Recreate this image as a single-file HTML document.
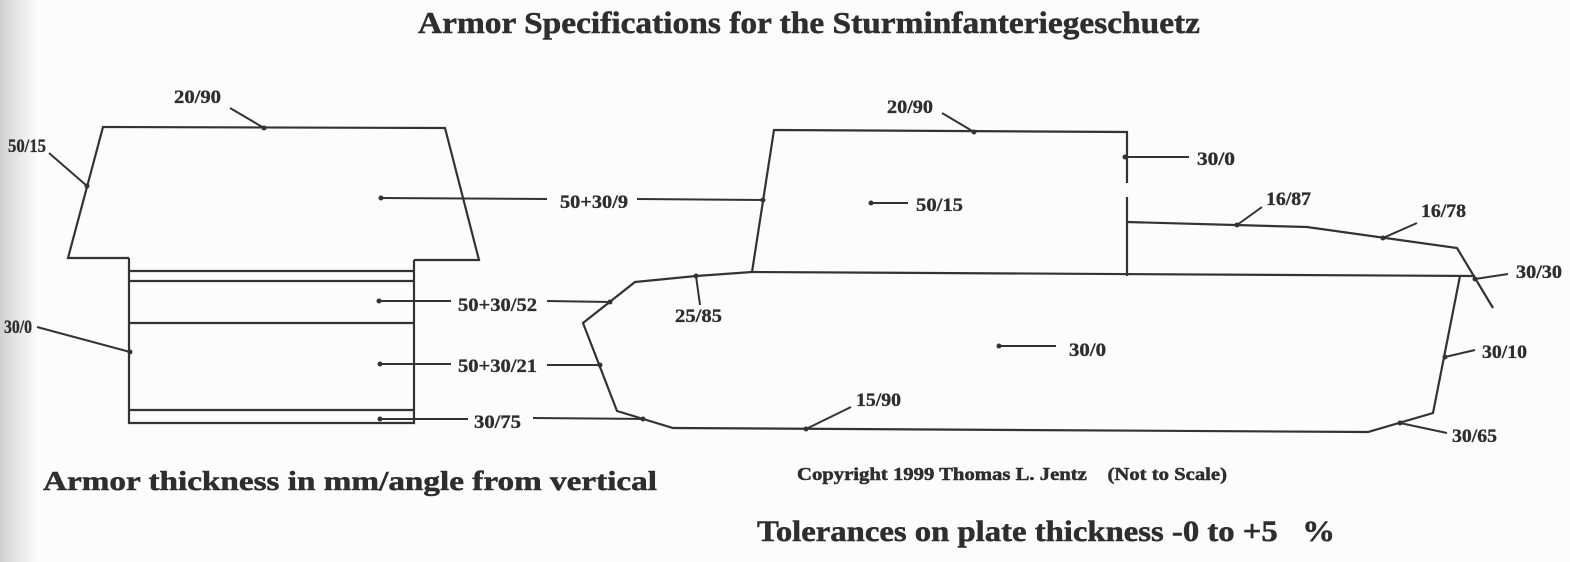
<!DOCTYPE html>
<html>
<head>
<meta charset="utf-8">
<style>
  html, body { margin:0; padding:0; width:1570px; height:562px; overflow:hidden; background:#fcfcfc; }
  svg { display:block; }
  text { font-family: "Liberation Serif", "DejaVu Serif", serif; font-weight:bold; fill:#2e2e2e; stroke:#2e2e2e; stroke-width:0.5; white-space:pre; }
  .ln { stroke:#333; stroke-width:2.2; fill:none; stroke-linejoin:miter; }
  .ld { stroke:#333; stroke-width:2; fill:none; }
  .lbl { font-size:19px; stroke-width:0.35; }
</style>
</head>
<body>
<svg width="1570" height="562" viewBox="0 0 1570 562" xmlns="http://www.w3.org/2000/svg">
  <defs>
    <linearGradient id="edge" x1="0" x2="1" y1="0" y2="0">
      <stop offset="0" stop-color="#cfcfcf"/>
      <stop offset="0.35" stop-color="#e2e2e2"/>
      <stop offset="1" stop-color="#fcfcfc"/>
    </linearGradient>
  </defs>
  <rect x="0" y="0" width="1570" height="562" fill="#fcfcfc"/>
  <rect x="0" y="0" width="38" height="562" fill="url(#edge)"/>

  <!-- Title -->
  <text x="418" y="33" font-size="31" textLength="782" lengthAdjust="spacingAndGlyphs">Armor Specifications for the Sturminfanteriegeschuetz</text>

  <!-- LEFT (front) VIEW -->
  <polyline class="ln" points="129,258 68,258 103,127 445,128 479,260 414,260"/>
  <polyline class="ln" points="129,258 129,423 414,423 414,260"/>
  <line class="ln" x1="129" y1="271" x2="414" y2="271"/>
  <line class="ln" x1="129" y1="281" x2="414" y2="281"/>
  <line class="ln" x1="129" y1="323" x2="414" y2="323"/>
  <line class="ln" x1="129" y1="410" x2="414" y2="410"/>

  <!-- left view leaders -->
  <line class="ld" x1="230" y1="108" x2="264" y2="128"/>
  <circle cx="264" cy="128" r="2.5" fill="#333"/>
  <text class="lbl" x="174" y="103" textLength="47" lengthAdjust="spacingAndGlyphs">20/90</text>

  <line class="ld" x1="49" y1="153" x2="87" y2="186"/>
  <circle cx="87" cy="186" r="2.5" fill="#333"/>
  <text class="lbl" x="8" y="152" font-size="17" textLength="38" lengthAdjust="spacingAndGlyphs">50/15</text>

  <line class="ld" x1="37" y1="327" x2="130" y2="352"/>
  <circle cx="130" cy="352" r="2.5" fill="#333"/>
  <text class="lbl" x="4" y="333" font-size="17" textLength="28" lengthAdjust="spacingAndGlyphs">30/0</text>

  <circle cx="381" cy="198" r="2.5" fill="#333"/>
  <line class="ld" x1="381" y1="198" x2="547" y2="199"/>
  <text class="lbl" x="560" y="208" textLength="68" lengthAdjust="spacingAndGlyphs">50+30/9</text>
  <line class="ld" x1="637" y1="199" x2="763" y2="200"/>
  <circle cx="763" cy="200" r="2.5" fill="#333"/>

  <circle cx="379" cy="301" r="2.5" fill="#333"/>
  <line class="ld" x1="379" y1="301" x2="451" y2="301"/>
  <text class="lbl" x="458" y="311" textLength="79" lengthAdjust="spacingAndGlyphs">50+30/52</text>
  <line class="ld" x1="547" y1="301" x2="610" y2="302"/>
  <circle cx="610" cy="302" r="2.5" fill="#333"/>

  <circle cx="380" cy="364" r="2.5" fill="#333"/>
  <line class="ld" x1="380" y1="364" x2="451" y2="364"/>
  <text class="lbl" x="458" y="372" textLength="79" lengthAdjust="spacingAndGlyphs">50+30/21</text>
  <line class="ld" x1="547" y1="365" x2="600" y2="365"/>
  <circle cx="600" cy="365" r="2.5" fill="#333"/>

  <circle cx="380" cy="419" r="2.5" fill="#333"/>
  <line class="ld" x1="380" y1="419" x2="468" y2="419"/>
  <text class="lbl" x="474" y="428" textLength="47" lengthAdjust="spacingAndGlyphs">30/75</text>
  <line class="ld" x1="533" y1="418" x2="643" y2="419"/>
  <circle cx="643" cy="419" r="2.5" fill="#333"/>

  <!-- RIGHT (side) VIEW -->
  <polyline class="ln" points="752,272 774,130 1127,132 1127,183"/>
  <line class="ln" x1="1127" y1="197" x2="1127" y2="276"/>
  <polyline class="ln" points="1127,222 1307,227 1457,248 1493,308"/>
  <line class="ln" x1="752" y1="272" x2="1475" y2="276"/>
  <polyline class="ln" points="752,272 696,276 635,282 583,323 617,411 673,428 1368,432 1433,413 1460,276"/>

  <!-- right view leaders -->
  <line class="ld" x1="942" y1="113" x2="974" y2="132"/>
  <circle cx="974" cy="132" r="2.5" fill="#333"/>
  <text class="lbl" x="887" y="113" textLength="46" lengthAdjust="spacingAndGlyphs">20/90</text>

  <circle cx="871" cy="203" r="2.5" fill="#333"/>
  <line class="ld" x1="871" y1="203" x2="908" y2="203"/>
  <text class="lbl" x="916" y="211" textLength="47" lengthAdjust="spacingAndGlyphs">50/15</text>

  <circle cx="696" cy="276" r="2.5" fill="#333"/>
  <line class="ld" x1="696" y1="276" x2="700" y2="305"/>
  <text class="lbl" x="675" y="322" textLength="47" lengthAdjust="spacingAndGlyphs">25/85</text>

  <circle cx="806" cy="429" r="2.5" fill="#333"/>
  <line class="ld" x1="806" y1="429" x2="851" y2="407"/>
  <text class="lbl" x="856" y="406" textLength="45" lengthAdjust="spacingAndGlyphs">15/90</text>

  <circle cx="999" cy="346" r="2.5" fill="#333"/>
  <line class="ld" x1="999" y1="346" x2="1056" y2="346"/>
  <text class="lbl" x="1069" y="356" textLength="37" lengthAdjust="spacingAndGlyphs">30/0</text>

  <circle cx="1125" cy="157" r="2.5" fill="#333"/>
  <line class="ld" x1="1125" y1="157" x2="1189" y2="157"/>
  <text class="lbl" x="1197" y="165" textLength="38" lengthAdjust="spacingAndGlyphs">30/0</text>

  <circle cx="1237" cy="225" r="2.5" fill="#333"/>
  <line class="ld" x1="1237" y1="225" x2="1262" y2="207"/>
  <text class="lbl" x="1266" y="205" textLength="45" lengthAdjust="spacingAndGlyphs">16/87</text>

  <circle cx="1383" cy="238" r="2.5" fill="#333"/>
  <line class="ld" x1="1383" y1="238" x2="1417" y2="223"/>
  <text class="lbl" x="1421" y="217" textLength="45" lengthAdjust="spacingAndGlyphs">16/78</text>

  <circle cx="1475" cy="279" r="2.5" fill="#333"/>
  <line class="ld" x1="1475" y1="279" x2="1508" y2="274"/>
  <text class="lbl" x="1516" y="278" textLength="46" lengthAdjust="spacingAndGlyphs">30/30</text>

  <circle cx="1445" cy="357" r="2.5" fill="#333"/>
  <line class="ld" x1="1445" y1="357" x2="1475" y2="350"/>
  <text class="lbl" x="1482" y="358" textLength="45" lengthAdjust="spacingAndGlyphs">30/10</text>

  <circle cx="1400" cy="423" r="2.5" fill="#333"/>
  <line class="ld" x1="1400" y1="423" x2="1447" y2="433"/>
  <text class="lbl" x="1452" y="442" textLength="45" lengthAdjust="spacingAndGlyphs">30/65</text>

  <!-- Bottom texts -->
  <text x="43" y="490" font-size="27" textLength="614" lengthAdjust="spacingAndGlyphs">Armor thickness in mm/angle from vertical</text>
  <text x="797" y="480" font-size="18" stroke-width="0.35" textLength="430" lengthAdjust="spacingAndGlyphs">Copyright 1999 Thomas L. Jentz    (Not to Scale)</text>
  <text x="757" y="541" font-size="30" textLength="578" lengthAdjust="spacingAndGlyphs">Tolerances on plate thickness -0 to +5   %</text>
</svg>
</body>
</html>
